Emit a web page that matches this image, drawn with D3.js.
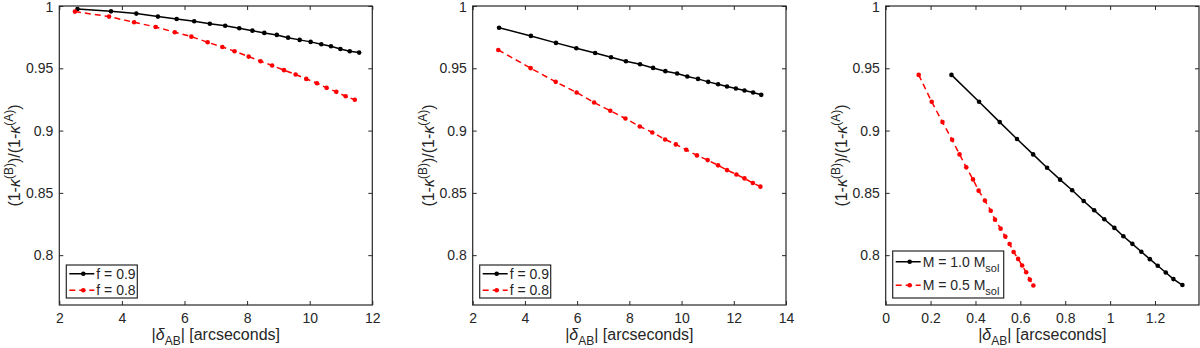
<!DOCTYPE html>
<html>
<head>
<meta charset="utf-8">
<script src="https://cdn.jsdelivr.net/npm/d3@7"></script>
<style>
  body { margin: 0; background: #fff; }
  svg text { font-family: "Liberation Sans", Arial, Helvetica, sans-serif; fill: #262626; }
</style>
</head>
<body>
<div id="chart-area"></div>
<script>
// panel 1 : f = 0.9 / f = 0.8
var sepF09a = [2.58, 3.65, 4.46, 5.15, 5.75, 6.31, 6.81, 7.30, 7.75, 8.17, 8.55, 8.95, 9.31, 9.68, 10.03, 10.37, 10.68, 10.98, 11.28, 11.58];
var ratioF09a = [0.9976, 0.9957, 0.9939, 0.9915, 0.9896, 0.9877, 0.9858, 0.9842, 0.9821, 0.9802, 0.9784, 0.9768, 0.9746, 0.9728, 0.9712, 0.9693, 0.9677, 0.9655, 0.9637, 0.9626];
var sepF08a = [2.50, 3.59, 4.39, 5.08, 5.69, 6.22, 6.74, 7.21, 7.60, 8.05, 8.43, 8.80, 9.18, 9.55, 9.89, 10.23, 10.54, 10.85, 11.15, 11.44];
var ratioF08a = [0.9955, 0.9915, 0.9869, 0.9832, 0.9789, 0.9754, 0.9709, 0.9671, 0.9637, 0.9594, 0.9557, 0.9522, 0.9485, 0.9450, 0.9415, 0.9380, 0.9343, 0.9311, 0.9276, 0.9247];

// panel 2 : f = 0.9 / f = 0.8
var sepF09b = [3.01, 4.23, 5.19, 5.97, 6.69, 7.30, 7.87, 8.41, 8.91, 9.38, 9.83, 10.22, 10.63, 11.02, 11.40, 11.74, 12.08, 12.41, 12.74, 13.05];
var ratioF09b = [0.9826, 0.9760, 0.9704, 0.9661, 0.9623, 0.9589, 0.9557, 0.9533, 0.9503, 0.9477, 0.9458, 0.9434, 0.9415, 0.9391, 0.9372, 0.9354, 0.9338, 0.9322, 0.9306, 0.9287];
var sepF08b = [2.98, 4.22, 5.18, 5.98, 6.65, 7.27, 7.85, 8.40, 8.88, 9.37, 9.78, 10.18, 10.59, 11.00, 11.40, 11.74, 12.10, 12.41, 12.73, 13.02];
var ratioF08b = [0.9647, 0.9501, 0.9391, 0.9306, 0.9225, 0.9159, 0.9097, 0.9033, 0.8985, 0.8929, 0.8889, 0.8846, 0.8801, 0.8763, 0.8721, 0.8683, 0.8648, 0.8616, 0.8579, 0.8550];

// panel 3 : M = 1.0 / M = 0.5 Msol
var sepM10 = [0.293, 0.416, 0.508, 0.585, 0.657, 0.719, 0.777, 0.831, 0.882, 0.929, 0.974, 1.019, 1.059, 1.099, 1.139, 1.177, 1.212, 1.248, 1.282, 1.322];
var ratioM10 = [0.9447, 0.9231, 0.9068, 0.8932, 0.8809, 0.8702, 0.8606, 0.8521, 0.8435, 0.8360, 0.8288, 0.8219, 0.8152, 0.8091, 0.8027, 0.7968, 0.7915, 0.7861, 0.7808, 0.7760];
var sepM05 = [0.147, 0.205, 0.253, 0.296, 0.329, 0.359, 0.389, 0.414, 0.442, 0.468, 0.487, 0.512, 0.533, 0.552, 0.570, 0.590, 0.608, 0.626, 0.642, 0.658];
var ratioM05 = [0.9447, 0.9231, 0.9068, 0.8926, 0.8809, 0.8705, 0.8608, 0.8518, 0.8438, 0.8357, 0.8285, 0.8213, 0.8149, 0.8090, 0.8026, 0.7970, 0.7917, 0.7863, 0.7804, 0.7756];

var yTicks = [0.8, 0.85, 0.9, 0.95, 1];
var xTicks1 = [2, 4, 6, 8, 10, 12];
var xTicks2 = [2, 4, 6, 8, 10, 12, 14];
var xTicks3 = [0, 0.2, 0.4, 0.6, 0.8, 1, 1.2];
var legendF = ["f = 0.9", "f = 0.8"];
var legendM = ["M = 1.0 M_sol", "M = 0.5 M_sol"];

var width = 1200, height = 348;
var plotTop = 6, plotBottom = 305;
var ink = "#262626";

var svg = d3.select("#chart-area").append("svg")
  .attr("width", width)
  .attr("height", height);

var panels = [
  {left: 59.3, right: 372.3, xDomain: [2, 12], xTicks: xTicks1, legend: legendF, legendW: 71, legendH: 33,
   series: [{x: sepF09a, y: ratioF09a, color: "#000"}, {x: sepF08a, y: ratioF08a, color: "#ff0000", dash: "6,4"}]},
  {left: 472.7, right: 786, xDomain: [2, 14], xTicks: xTicks2, legend: legendF, legendW: 71, legendH: 33,
   series: [{x: sepF09b, y: ratioF09b, color: "#000"}, {x: sepF08b, y: ratioF08b, color: "#ff0000", dash: "6,4"}]},
  {left: 885.7, right: 1199, xDomain: [0, 1.396], xTicks: xTicks3, legend: legendM, legendW: 111, legendH: 47,
   series: [{x: sepM10, y: ratioM10, color: "#000"}, {x: sepM05, y: ratioM05, color: "#ff0000", dash: "6,4"}]}
];

panels.forEach(function(p) {
  var w = p.right - p.left, h = plotBottom - plotTop;
  var g = svg.append("g").attr("transform", "translate(" + p.left + "," + plotTop + ")");

  var xScale = d3.scaleLinear().domain(p.xDomain).range([0, w]);
  var yScale = d3.scaleLinear().domain([0.76, 1]).range([h, 0]);

  var xAxis = d3.axisBottom(xScale).tickValues(p.xTicks).tickSize(-4).tickPadding(8).tickFormat(function(d) { return String(+d.toFixed(2)); });
  var yAxis = d3.axisLeft(yScale).tickValues(yTicks).tickSize(-4).tickPadding(6).tickFormat(function(d) { return String(+d.toFixed(2)); });

  function style(sel) {
    sel.select(".domain").remove();
    sel.selectAll(".tick line").attr("stroke", ink);
    sel.selectAll(".tick text").attr("font-size", "14px").attr("fill", ink)
      .style("font-family", "'Liberation Sans', Arial, sans-serif");
  }

  g.append("g").attr("transform", "translate(0," + h + ")").call(xAxis).call(style);
  g.append("g").call(yAxis).call(style)
    .selectAll(".tick text").filter(function(d) { return d === 1; }).attr("dy", "0.42em");
  g.append("g").call(d3.axisTop(xScale).tickValues(p.xTicks).tickSize(-4).tickFormat("")).call(style);
  g.append("g").attr("transform", "translate(" + w + ",0)")
    .call(d3.axisRight(yScale).tickValues(yTicks).tickSize(-4).tickFormat("")).call(style);

  g.append("rect").attr("width", w).attr("height", h)
    .attr("fill", "none").attr("stroke", ink).attr("stroke-width", 1.2);

  var line = d3.line().x(function(d) { return xScale(d[0]); }).y(function(d) { return yScale(d[1]); });

  p.series.forEach(function(s) {
    var pts = d3.zip(s.x, s.y);
    g.append("path").datum(pts)
      .attr("d", line)
      .attr("fill", "none")
      .attr("stroke", s.color)
      .attr("stroke-width", 1.5)
      .attr("stroke-dasharray", s.dash || null);
    g.selectAll(null).data(pts).enter().append("circle")
      .attr("cx", function(d) { return xScale(d[0]); })
      .attr("cy", function(d) { return yScale(d[1]); })
      .attr("r", 2.3)
      .attr("fill", s.color);
  });

  // y label
  var yl = g.append("text")
    .attr("transform", "translate(-39," + (h / 2) + ") rotate(-90)")
    .attr("text-anchor", "middle")
    .attr("font-size", "16px");
  yl.append("tspan").text("(1-");
  yl.append("tspan").attr("font-style", "italic").text("κ");
  yl.append("tspan").attr("dy", -7).attr("font-size", "12px").text("(B)");
  yl.append("tspan").attr("dy", 7).text(")/(1-");
  yl.append("tspan").attr("font-style", "italic").text("κ");
  yl.append("tspan").attr("dy", -7).attr("font-size", "12px").text("(A)");
  yl.append("tspan").attr("dy", 7).text(")");

  // x label
  var xl = g.append("text")
    .attr("x", w / 2).attr("y", h + 35)
    .attr("text-anchor", "middle")
    .attr("font-size", "16px");
  xl.append("tspan").text("|");
  xl.append("tspan").attr("font-style", "italic").text("δ");
  xl.append("tspan").attr("dy", 5).attr("font-size", "12px").text("AB");
  xl.append("tspan").attr("dy", -5).text("| [arcseconds]");

  // legend
  var lg = g.append("g").attr("transform", "translate(7," + (h - 7 - p.legendH) + ")");
  lg.append("rect").attr("width", p.legendW).attr("height", p.legendH)
    .attr("fill", "#fff").attr("stroke", ink).attr("stroke-width", 1.2);
  var rowH = p.legendH / 2;
  p.legend.forEach(function(label, i) {
    var s = p.series[i];
    var cy = rowH * i + rowH / 2 + (p.legendH > 40 ? -1 : 0.5);
    lg.append("line").attr("x1", 3).attr("x2", 28).attr("y1", cy).attr("y2", cy)
      .attr("stroke", s.color).attr("stroke-width", 1.5).attr("stroke-dasharray", s.dash || null);
    lg.append("circle").attr("cx", 17).attr("cy", cy).attr("r", 2.3).attr("fill", s.color);
    var parts = label.split("_");
    var t = lg.append("text").attr("x", 30).attr("y", cy).attr("dy", "0.36em").attr("font-size", "14px");
    t.append("tspan").text(parts[0]);
    if (parts[1]) t.append("tspan").attr("dy", 5).attr("font-size", "11px").text(parts[1]);
  });
});
</script>
</body>
</html>
